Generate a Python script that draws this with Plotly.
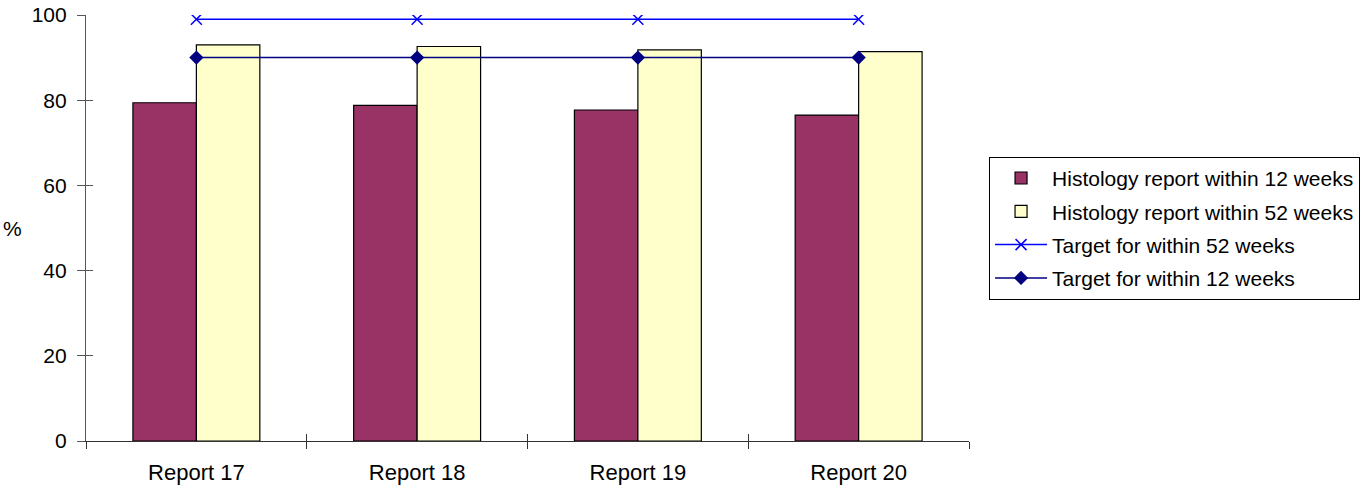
import plotly.graph_objects as go

# Report periods and percentages
reports = ["Report 17", "Report 18", "Report 19", "Report 20"]
within_12_weeks = [79.4, 78.8, 77.7, 76.5]
within_52_weeks = [93.0, 92.6, 91.8, 91.4]
target_52_weeks = [99, 99, 99, 99]
target_12_weeks = [90, 90, 90, 90]
y_ticks = [0, 20, 40, 60, 80, 100]

FAMILY = "Liberation Sans, Arial, sans-serif"
FONT = dict(family=FAMILY, size=21, color="#000000")
AXIS_COLOR = "#555555"

fig = go.Figure()

fig.add_trace(go.Bar(
    x=reports, y=within_12_weeks,
    name="Histology report within 12 weeks", legendgroup="a",
    marker=dict(color="#993366", line=dict(color="#000000", width=1.2)),
))
fig.add_trace(go.Bar(
    x=reports, y=within_52_weeks,
    name="Histology report within 52 weeks", legendgroup="b",
    marker=dict(color="#FFFFCC", line=dict(color="#000000", width=1.2)),
))
fig.add_trace(go.Scatter(
    x=reports, y=target_52_weeks,
    name="Target for within 52 weeks", legendgroup="c",
    mode="lines+markers",
    line=dict(color="#0000FF", width=1.5),
    marker=dict(symbol="x-thin-open", size=11, color="#0000FF",
                line=dict(color="#0000FF", width=1.5)),
))
fig.add_trace(go.Scatter(
    x=reports, y=target_12_weeks,
    name="Target for within 12 weeks", legendgroup="d",
    mode="lines+markers",
    line=dict(color="#000080", width=1.5),
    marker=dict(symbol="diamond", size=11, color="#000080"),
))

# invisible trace carrying the inner half of the crossing tick marks
fig.add_trace(go.Scatter(
    x=reports, y=[None] * len(reports), xaxis="x2", yaxis="y2",
    showlegend=False, hoverinfo="skip", mode="lines",
))

fig.update_layout(
    width=1368, height=489,
    margin=dict(l=86, r=399, t=15, b=48, autoexpand=False),
    paper_bgcolor="#FFFFFF", plot_bgcolor="#FFFFFF",
    font=FONT,
    barmode="group", bargap=0.425, bargroupgap=0,
    showlegend=True,
    legend=dict(
        x=1.0227, y=0.667, xanchor="left", yanchor="top",
        bgcolor="#FFFFFF", bordercolor="#000000", borderwidth=1,
        font=dict(family=FAMILY, size=21, color="#000000"),
        traceorder="grouped", tracegroupgap=3, itemwidth=52,
    ),
    xaxis=dict(
        type="category", categoryarray=reports, categoryorder="array",
        showline=True, linecolor="#333333", linewidth=1.2,
        ticks="outside", ticklen=7, tickcolor="#333333", tickwidth=1.2,
        tickson="boundaries", showgrid=False, zeroline=False,
        tickfont=dict(family=FAMILY, size=22, color="#000000"),
        ticklabelstandoff=11, automargin=False,
    ),
    yaxis=dict(
        range=[0, 100], tickvals=y_ticks,
        showline=True, linecolor=AXIS_COLOR, linewidth=1.2,
        ticks="outside", ticklen=8, tickcolor=AXIS_COLOR, tickwidth=1.2,
        showgrid=False, zeroline=False, tickfont=FONT,
        ticklabelstandoff=6, automargin=False,
    ),
    xaxis2=dict(
        type="category", categoryarray=reports, categoryorder="array",
        overlaying="x", matches="x", showline=False,
        ticks="inside", ticklen=7, tickcolor="#333333", tickwidth=1.2,
        tickson="boundaries", showticklabels=False, showgrid=False, zeroline=False,
        automargin=False,
    ),
    yaxis2=dict(
        range=[0, 100], tickvals=y_ticks, overlaying="y",
        showline=False, ticks="inside", ticklen=7, tickcolor=AXIS_COLOR, tickwidth=1.2,
        showticklabels=False, showgrid=False, zeroline=False, automargin=False,
    ),
    annotations=[dict(
        text="%", xref="paper", yref="paper", x=-0.083, y=0.5,
        xanchor="center", yanchor="middle", showarrow=False, font=FONT,
    )],
)

fig.write_html("out.html")
